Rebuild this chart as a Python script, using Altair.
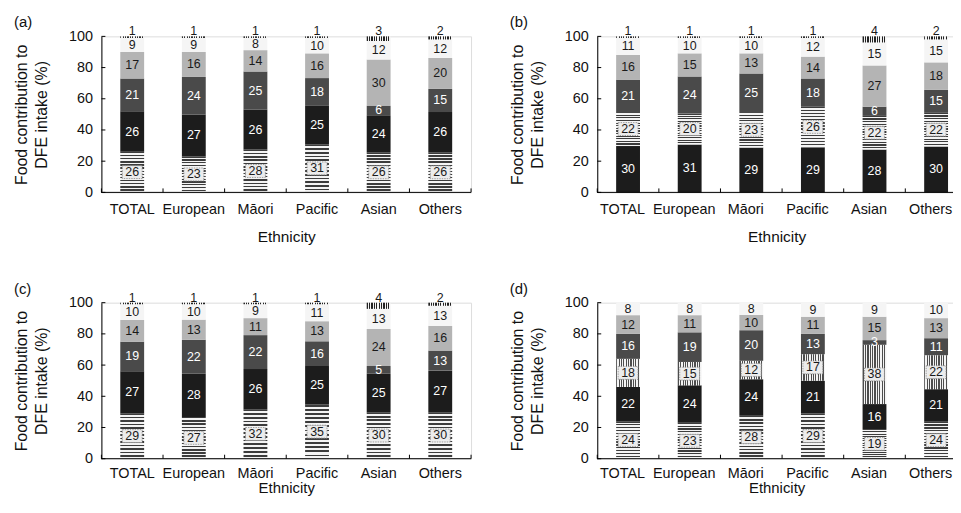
import altair as alt
import pandas as pd

ethnicities = ["TOTAL", "European", "Māori", "Pacific", "Asian", "Others"]

# Panel (a): bottom -> top
a_hstripe = [26, 23, 28, 31, 26, 26]
a_black = [26, 27, 26, 25, 24, 26]
a_dgrey = [21, 24, 25, 18, 6, 15]
a_lgrey = [17, 16, 14, 16, 30, 20]
a_white = [9, 9, 8, 10, 12, 12]
a_vstripe = [1, 1, 1, 1, 3, 2]

# Panel (b)
b_black = [30, 31, 29, 29, 28, 30]
b_hstripe = [22, 20, 23, 26, 22, 22]
b_dgrey = [21, 24, 25, 18, 6, 15]
b_lgrey = [16, 15, 13, 14, 27, 18]
b_white = [11, 10, 10, 12, 15, 15]
b_vstripe = [1, 1, 1, 1, 4, 2]

# Panel (c)
c_hstripe = [29, 27, 32, 35, 30, 30]
c_black = [27, 28, 26, 25, 25, 27]
c_dgrey = [19, 22, 22, 16, 5, 13]
c_lgrey = [14, 13, 11, 13, 24, 16]
c_white = [10, 10, 9, 11, 13, 13]
c_vstripe = [1, 1, 1, 1, 4, 2]

# Panel (d)
d_hstripe = [24, 23, 28, 29, 19, 24]
d_black = [22, 24, 24, 21, 16, 21]
d_vstripe = [18, 15, 12, 17, 38, 22]
d_dgrey = [16, 19, 20, 13, 3, 11]
d_lgrey = [12, 11, 10, 11, 15, 13]
d_white = [8, 8, 8, 9, 9, 10]

y_tick_labels = [0, 20, 40, 60, 80, 100]

STEP = 62      # category spacing in px
FULL_W = 372   # 6 * STEP
RIGHT_W = 361  # right-hand panels are cut at the page edge
H = 157
FONT = "Liberation Sans"

panels = [
    ("(a)", [("hs", a_hstripe), ("blk", a_black), ("dg", a_dgrey), ("lg", a_lgrey), ("wh", a_white), ("vs", a_vstripe)], True, FULL_W, True),
    ("(b)", [("blk", b_black), ("hs", b_hstripe), ("dg", b_dgrey), ("lg", b_lgrey), ("wh", b_white), ("vs", b_vstripe)], True, RIGHT_W, True),
    ("(c)", [("hs", c_hstripe), ("blk", c_black), ("dg", c_dgrey), ("lg", c_lgrey), ("wh", c_white), ("vs", c_vstripe)], True, FULL_W, False),
    ("(d)", [("hs", d_hstripe), ("blk", d_black), ("vs", d_vstripe), ("dg", d_dgrey), ("lg", d_lgrey), ("wh", d_white)], False, RIGHT_W, False),
]


def stripes(n, dark, light, frac, horizontal):
    stops = []
    for i in range(n):
        a = i / n
        b = (i + frac) / n
        c = (i + 1) / n
        stops += [
            alt.GradientStop(color=dark, offset=a),
            alt.GradientStop(color=dark, offset=b),
            alt.GradientStop(color=light, offset=b),
            alt.GradientStop(color=light, offset=c),
        ]
    if horizontal:
        return alt.LinearGradient(gradient="linear", stops=stops, x1=0, y1=0, x2=0, y2=1)
    return alt.LinearGradient(gradient="linear", stops=stops, x1=0, y1=0, x2=1, y2=0)


fills = {
    "hs": stripes(13, "#3c3c3c", "#f4f4f4", 0.45, True),
    "blk": "#1c1c1c",
    "dg": "#4a4a4a",
    "lg": "#b4b4b4",
    "wh": "#f5f5f5",
}
vs_small = stripes(10, "#222222", "#f4f4f4", 0.5, False)
vs_big = stripes(10, "#4d4d4d", "#f4f4f4", 0.5, False)

yscale = alt.Scale(domain=[0, 1], nice=False, zero=True)
yaxis = alt.Axis(values=[v / 100 for v in y_tick_labels], labelExpr="format(datum.value*100, 'd')",
                 ticks=False, labelFontSize=14.5, labelPadding=9, labelColor="#111",
                 title=["Food contribution to", "DFE intake (%)"], titleFontSize=16,
                 titleFontWeight="normal", titlePadding=19, titleLineHeight=20, titleColor="#111",
                 domainColor="#000", grid=False)


def Y(field):
    return alt.Y(f"{field}:Q", scale=yscale, axis=yaxis)


def panel(letter, segs, top_above, W, top_row):
    pad_inner = 6 - W / STEP          # keeps a 62 px step inside a narrower view
    bw = STEP * (1 - pad_inner)       # band width
    bpos = (STEP / 2) / bw            # band fraction at the category centre
    xoff = STEP / 2 - bw / 2          # shift for centred bars

    xscale = alt.Scale(domain=ethnicities, paddingInner=pad_inner, paddingOuter=0, align=0)
    xaxis = alt.Axis(ticks=False, domain=False, labelAngle=0, labelFontSize=14.5,
                     labelPadding=10 if top_row else 8, labelColor="#111", bandPosition=bpos,
                     title="Ethnicity", titleFontSize=15.5 if top_row else 15, titleFontWeight="normal",
                     titlePadding=14 if top_row else 1, titleColor="#111", grid=False)

    def X(**kw):
        return alt.X("eth:N", scale=xscale, sort=ethnicities, axis=xaxis, **kw)

    rows = []
    for order, (seg, vals) in enumerate(segs):
        for e, v in zip(ethnicities, vals):
            rows.append({"eth": e, "seg": seg, "order": order, "value": v})
    df = pd.DataFrame(rows)
    base = alt.Chart(df).transform_stack(
        stack="value", groupby=["eth"], as_=["y0", "y1"], offset="normalize",
        sort=[alt.SortField("order", order="ascending")]
    ).transform_calculate(mid="(datum.y0 + datum.y1) / 2")

    layers = []
    for seg, _ in segs:
        fill = fills.get(seg, vs_small if top_above else vs_big)
        layers.append(
            base.transform_filter(alt.datum.seg == seg)
            .mark_bar(width=24, color=fill, xOffset=xoff)
            .encode(x=X(), y=Y("y0"), y2="y1:Q")
        )

    boxed = ["hs"] if top_above else ["hs", "vs"]
    layers.append(
        base.transform_filter(alt.FieldOneOfPredicate(field="seg", oneOf=boxed))
        .mark_point(shape="M-1,-0.65L1,-0.65L1,0.65L-1,0.65Z", size=400, filled=True,
                    fill="#ececec", stroke="#8a8a8a", strokeWidth=0.8, strokeDash=[1.5, 1], opacity=1)
        .encode(x=X(bandPosition=bpos), y=Y("mid"))
    )

    mid_filter = alt.datum.seg != "vs" if top_above else alt.datum.seg != "__none__"
    layers.append(
        base.transform_filter(mid_filter)
        .mark_text(fontSize=12.5, font=FONT, baseline="middle", align="center")
        .encode(
            x=X(bandPosition=bpos), y=Y("mid"), text="value:Q",
            color=alt.condition(alt.FieldOneOfPredicate(field="seg", oneOf=["blk", "dg"]),
                                alt.value("#ffffff"), alt.value("#1a1a1a")),
        )
    )
    if top_above:
        layers.append(
            base.transform_filter(alt.datum.seg == "vs")
            .mark_text(fontSize=12.5, font=FONT, baseline="alphabetic", align="center", dy=-1, color="#1a1a1a")
            .encode(x=X(bandPosition=bpos), y=Y("y1"), text="value:Q")
        )

    ticks_df = pd.DataFrame({"y1": [v / 100 for v in y_tick_labels]})
    layers.append(
        alt.Chart(ticks_df).mark_rule(color="#000", strokeWidth=1)
        .encode(y=Y("y1"), x=alt.value(0), x2=alt.value(4))
    )
    xt_df = pd.DataFrame({"eth": ethnicities})
    layers.append(
        alt.Chart(xt_df).mark_rule(color="#000", strokeWidth=1)
        .encode(x=X(bandPosition=0), y=alt.value(H), y2=alt.value(H - 4))
    )
    one = pd.DataFrame({"k": [0]})
    # x-axis baseline
    layers.append(
        alt.Chart(one).mark_rule(color="#000", strokeWidth=1)
        .encode(x=alt.value(0), x2=alt.value(W), y=alt.value(H))
    )
    if W >= FULL_W:
        layers.append(
            alt.Chart(one).mark_rule(color="#000", strokeWidth=1)
            .encode(x=alt.value(W), y=alt.value(H), y2=alt.value(H - 4))
        )
    layers.append(
        alt.Chart(one).mark_text(text=letter, fontSize=15, font=FONT, align="left", baseline="middle", color="#111")
        .encode(x=alt.value(-88), y=alt.value(-14))
    )
    return alt.layer(*layers).properties(width=W, height=H)


charts = [panel(*p) for p in panels]
chart = alt.vconcat(
    alt.hconcat(charts[0], charts[1], spacing=37),
    alt.hconcat(charts[2], charts[3], spacing=37),
    spacing=35,
).properties(padding={"left": 5, "top": 5, "right": -4, "bottom": 0}).configure_view(stroke=None).configure(font=FONT)

chart.save("out.html", embed_options={"renderer": "svg", "actions": False})
